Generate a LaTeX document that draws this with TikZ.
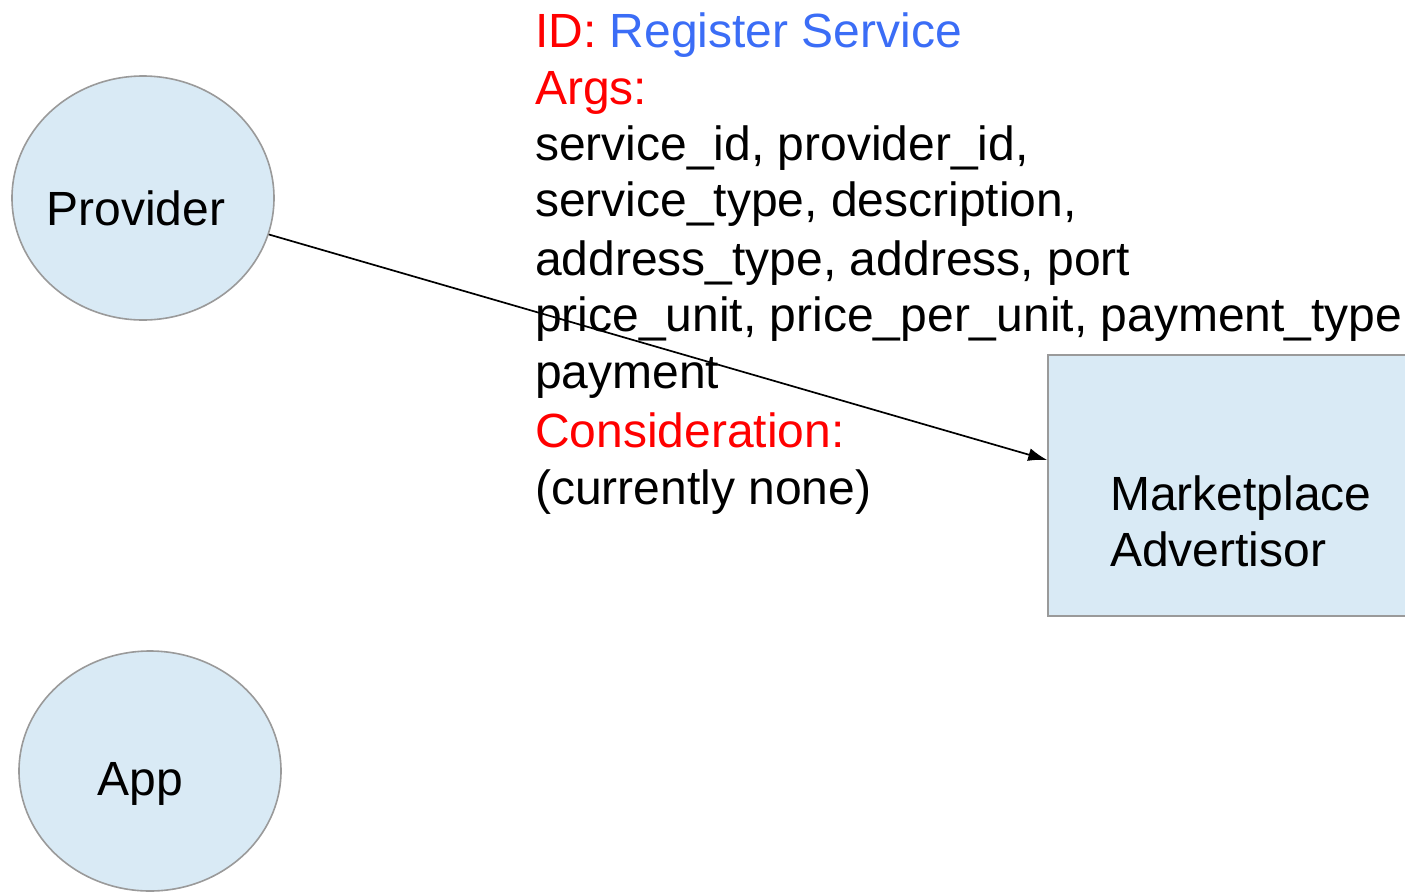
\documentclass[tikz,border=0pt]{standalone}
\usepackage{fontspec}
\setmainfont{Liberation Sans}
\usetikzlibrary{arrows.meta,shapes.geometric}
\definecolor{nodefill}{HTML}{D9EAF5}
\definecolor{nodeline}{HTML}{9A9A9A}
\definecolor{idred}{HTML}{FF0000}
\definecolor{idblue}{HTML}{3B6DF6}
\tikzset{
  bigfont/.style={font=\fontsize{48}{57}\selectfont},
  actor/.style={ellipse, draw=nodeline, fill=nodefill, line width=1.6pt,
    inner sep=0pt, minimum width=262pt},
  servicebox/.style={rectangle, draw=nodeline, fill=nodefill, line width=1.6pt,
    inner sep=0pt, minimum width=384pt, minimum height=261pt},
  plain/.style={inner sep=0pt, align=left, bigfont},
  flow/.style={line width=1.7pt, -{Latex[length=19pt,width=13pt]}}
}
\begin{document}
\begin{tikzpicture}[x=1pt,y=-1pt]
\useasboundingbox (0,0) rectangle (1405,892);
\clip (0,0) rectangle (1405,892);

% actors on the left
\node[actor, minimum height=244pt] (provider) at (143,198) {};
\node[plain, anchor=base] (providerlabel) at (136,225) {Provider};
\node[actor, minimum height=240pt] (app) at (150,771) {};
\node[plain, anchor=base] (applabel) at (140,795) {App};

% marketplace service
\node[servicebox] (market) at (1240,485.5) {};
\node[plain, anchor=base west] (marketlabel) at (1110,566)
  {Marketplace\\[-1pt]Advertisor};

% message description
\node[plain, anchor=base west] (idline) at (535,47)
  {\textcolor{idred}{ID:} \textcolor{idblue}{Register Service}};
\node[plain, anchor=base west] (argsline) at (535,104)
  {\textcolor{idred}{Args:}};
\node[plain, anchor=base west] (argsbody) at (535,160)
  {service\_id, provider\_id,};
\node[plain, anchor=base west] (argsbody2) at (535,216)
  {service\_type, description,};
\node[plain, anchor=base west] (argsbody3) at (535,275)
  {address\_type, address, port};
\node[plain, anchor=base west] (argsbody4) at (535,331)
  {price\_unit, price\_per\_unit, payment\_type,};
\node[plain, anchor=base west] (argsbody5) at (535,388)
  {payment};
\node[plain, anchor=base west] (considline) at (535,447)
  {\textcolor{idred}{Consideration:}};
\node[plain, anchor=base west] (considbody) at (535,504)
  {(currently none)};

% message arrow
\draw[flow] (provider) -- ([yshift=25.5pt]market.west);
\end{tikzpicture}
\end{document}
